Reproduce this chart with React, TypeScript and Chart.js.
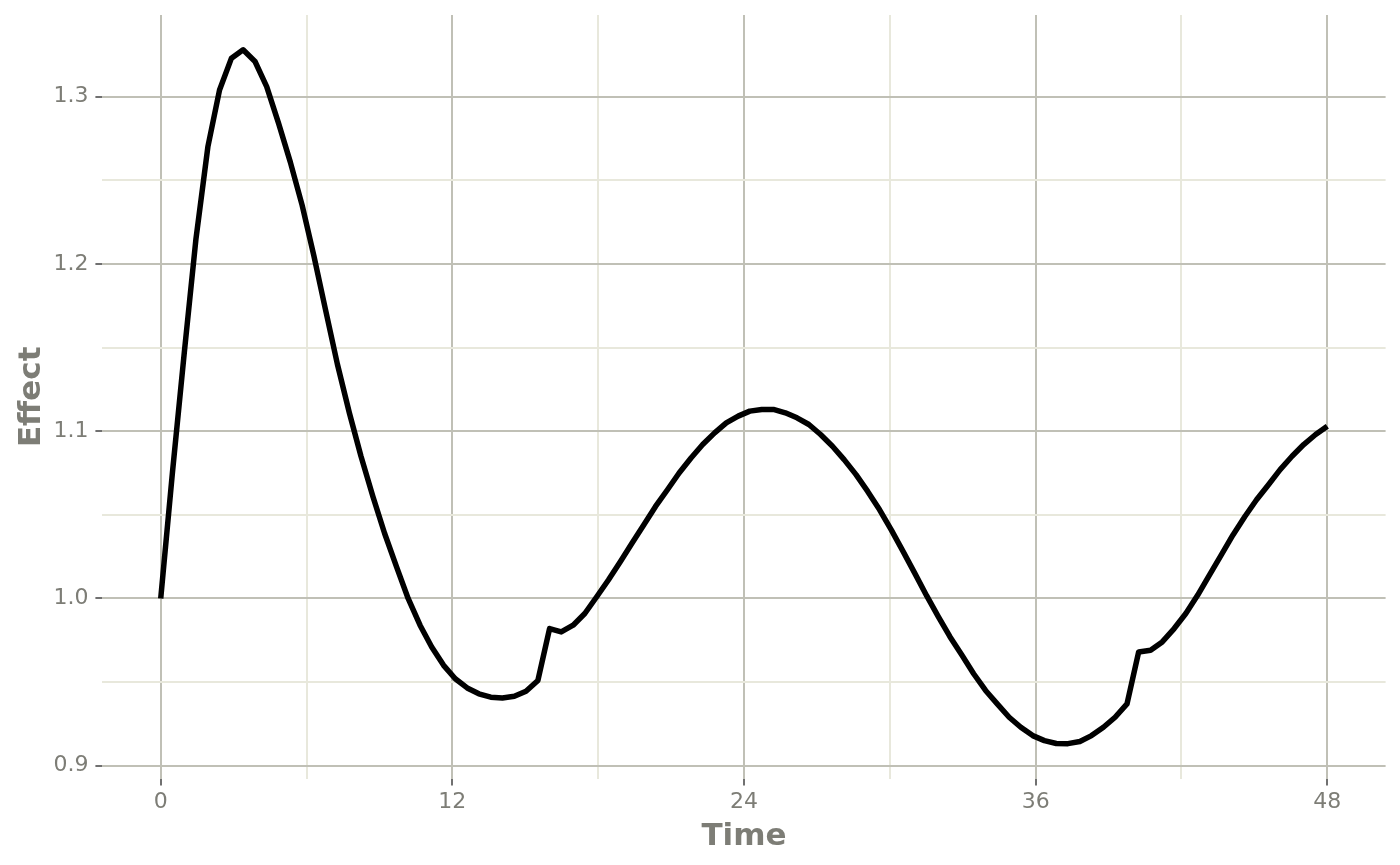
import { useEffect, useRef } from "react";
import { Chart, registerables } from "chart.js";

Chart.register(...registerables);

// sampling times (h)
const times = [
  0, 0.48, 0.97, 1.45, 1.94, 2.42, 2.91, 3.39, 3.88, 4.36,
  4.85, 5.33, 5.82, 6.3, 6.79, 7.27, 7.76, 8.24, 8.73, 9.21,
  9.7, 10.18, 10.67, 11.15, 11.64, 12.12, 12.61, 13.09, 13.58, 14.06,
  14.55, 15.03, 15.52, 16.0, 16.48, 16.97, 17.45, 17.94, 18.42, 18.91,
  19.39, 19.88, 20.36, 20.85, 21.33, 21.82, 22.3, 22.79, 23.27, 23.76,
  24.24, 24.73, 25.21, 25.7, 26.18, 26.67, 27.15, 27.64, 28.12, 28.61,
  29.09, 29.58, 30.06, 30.55, 31.03, 31.52, 32.0, 32.48, 32.97, 33.45,
  33.94, 34.42, 34.91, 35.39, 35.88, 36.36, 36.85, 37.33, 37.82, 38.3,
  38.79, 39.27, 39.76, 40.24, 40.73, 41.21, 41.7, 42.18, 42.67, 43.15,
  43.64, 44.12, 44.61, 45.09, 45.58, 46.06, 46.55, 47.03, 47.52, 48.0,
];

const effect = [
  1.0, 1.075, 1.147, 1.215, 1.27, 1.304, 1.323, 1.328, 1.321, 1.306,
  1.284, 1.261, 1.235, 1.205, 1.172, 1.14, 1.111, 1.085, 1.061, 1.039,
  1.019, 1.0, 0.984, 0.971, 0.96, 0.952, 0.9465, 0.943, 0.941, 0.9405,
  0.9415, 0.9445, 0.951, 0.982, 0.98, 0.984, 0.991, 1.001, 1.011, 1.022,
  1.033, 1.044, 1.055, 1.065, 1.075, 1.084, 1.092, 1.099, 1.105, 1.109,
  1.112, 1.113, 1.113, 1.111, 1.108, 1.104, 1.098, 1.091, 1.083, 1.074,
  1.064, 1.053, 1.041, 1.028, 1.015, 1.0015, 0.989, 0.977, 0.966, 0.955,
  0.945, 0.937, 0.929, 0.923, 0.918, 0.915, 0.9133, 0.9132, 0.9145, 0.918,
  0.923, 0.929, 0.937, 0.968, 0.969, 0.974, 0.982, 0.991, 1.002, 1.014,
  1.026, 1.038, 1.049, 1.059, 1.068, 1.077, 1.085, 1.092, 1.098, 1.103,
];

const xMajor = [0, 12, 24, 36, 48];
const xMinor = [6, 18, 30, 42];
const yMajor = [0.9, 1.0, 1.1, 1.2, 1.3];
const yMinor = [0.95, 1.05, 1.15, 1.25];

const MAJOR_GRID = "#c0c0b6";
const MINOR_GRID = "#e8e8dc";
const TICK_MARK = "#707070";
const TEXT_GRAY = "#7d7d76";

const isIn = (list: number[], v: number) => list.some((m) => Math.abs(m - v) < 1e-6);

Chart.defaults.font.family = "'DejaVu Sans', sans-serif";

export default function App() {
  const canvasRef = useRef<HTMLCanvasElement | null>(null);

  useEffect(() => {
    if (!canvasRef.current) return;

    const points = times.map((t, i) => ({ x: t, y: effect[i] }));

    const chart = new Chart(canvasRef.current, {
      type: "line",
      data: {
        datasets: [
          {
            data: points,
            borderColor: "#000000",
            borderWidth: 5.5,
            borderJoinStyle: "round",
            pointRadius: 0,
            tension: 0,
          },
        ],
      },
      options: {
        animation: false,
        responsive: true,
        maintainAspectRatio: false,
        layout: { padding: { top: 15, right: 14.4, left: 0, bottom: 0 } },
        plugins: {
          legend: { display: false },
          tooltip: { enabled: false },
        },
        scales: {
          x: {
            type: "linear",
            min: -2.4,
            max: 50.4,
            afterBuildTicks: (axis: any) => {
              axis.ticks = [...xMajor, ...xMinor].sort((a, b) => a - b).map((v) => ({ value: v }));
            },
            afterFit: (axis: any) => {
              axis.height = 86.4;
              axis.paddingLeft = 0;
              axis.paddingRight = 0;
            },
            border: { display: false },
            grid: {
              lineWidth: 2,
              tickLength: 7,
              color: (ctx: any) => (isIn(xMajor, ctx.tick.value) ? MAJOR_GRID : MINOR_GRID),
              tickColor: (ctx: any) => (isIn(xMajor, ctx.tick.value) ? TICK_MARK : "rgba(0,0,0,0)"),
            },
            ticks: {
              padding: 3,
              color: TEXT_GRAY,
              font: { size: 22 },
              maxRotation: 0,
              callback: (v: any) => (isIn(xMajor, Number(v)) ? String(v) : ""),
            },
            title: {
              display: true,
              text: "Time",
              color: TEXT_GRAY,
              font: { size: 31, weight: "bold" },
              padding: { top: 0, bottom: 9 },
            },
          },
          y: {
            type: "linear",
            min: 0.8923,
            max: 1.3488,
            afterBuildTicks: (axis: any) => {
              axis.ticks = [...yMajor, ...yMinor].sort((a, b) => a - b).map((v) => ({ value: v }));
            },
            afterFit: (axis: any) => {
              axis.width = 102.4;
              axis.paddingTop = 0;
              axis.paddingBottom = 0;
            },
            border: { display: false },
            grid: {
              lineWidth: 2,
              tickLength: 7,
              color: (ctx: any) => (isIn(yMajor, ctx.tick.value) ? MAJOR_GRID : MINOR_GRID),
              tickColor: (ctx: any) => (isIn(yMajor, ctx.tick.value) ? TICK_MARK : "rgba(0,0,0,0)"),
            },
            ticks: {
              padding: 7,
              color: TEXT_GRAY,
              font: { size: 22 },
              callback: (v: any) => (isIn(yMajor, Number(v)) ? Number(v).toFixed(1) : ""),
            },
            title: {
              display: true,
              text: "Effect",
              color: TEXT_GRAY,
              font: { size: 31, weight: "bold" },
              padding: { top: 13, bottom: 0 },
            },
          },
        },
      },
    });

    return () => chart.destroy();
  }, []);

  return (
    <div style={{ position: "fixed", left: 0, top: 0, width: 1400, height: 865, background: "#ffffff" }}>
      <canvas ref={canvasRef} />
    </div>
  );
}
